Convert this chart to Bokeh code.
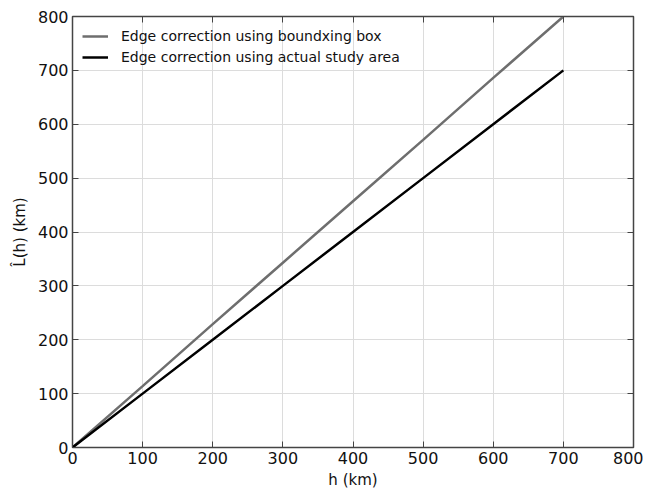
from bokeh.plotting import figure
from bokeh.models import LinearAxis, Range1d, FixedTicker, Legend, LegendItem
from bokeh.embed import file_html
from bokeh.resources import INLINE

h_km = [0, 100, 200, 300, 400, 500, 600, 700]
bbox_L = [0, 114, 229, 343, 457, 571, 686, 800]
actual_L = [0, 100, 200, 300, 400, 500, 600, 700]
ticks = [0, 100, 200, 300, 400, 500, 600, 700, 800]

FONT = "DejaVu Sans"

p = figure(width=643, height=491, output_backend="svg", toolbar_location=None,
           x_range=Range1d(0, 800), y_range=Range1d(0, 800),
           min_border_left=72, min_border_right=10, min_border_top=16, min_border_bottom=42)

p.outline_line_color = "#444444"
p.outline_line_width = 1.5
p.background_fill_color = "white"
p.border_fill_color = "white"

for ax in (p.xaxis[0], p.yaxis[0]):
    ax.ticker = FixedTicker(ticks=ticks)
    ax.major_tick_in = 6
    ax.major_tick_out = 0
    ax.minor_tick_line_color = None
    ax.axis_line_color = "#444444"
    ax.major_tick_line_color = "#444444"
    ax.major_label_text_font = FONT
    ax.major_label_text_font_size = "16px"
    ax.major_label_text_color = "#111111"
    ax.axis_label_text_font = FONT
    ax.axis_label_text_font_size = "15px"
    ax.axis_label_text_font_style = "normal"
    ax.axis_label_text_color = "#111111"

p.xaxis[0].axis_label = "h (km)"
p.xaxis[0].axis_label_standoff = 4
p.xaxis[0].major_label_standoff = 4
p.yaxis[0].axis_label = "L\u0302(h) (km)"
p.yaxis[0].axis_label_standoff = 6
p.yaxis[0].major_label_standoff = 4

for loc in ("right", "above"):
    a = LinearAxis(ticker=FixedTicker(ticks=ticks), major_tick_in=6, major_tick_out=0,
                   minor_tick_line_color=None, axis_line_color="#444444",
                   major_tick_line_color="#444444", major_label_text_font_size="1px",
                   major_label_text_color=None, major_label_standoff=0)
    p.add_layout(a, loc)

p.xgrid.ticker = FixedTicker(ticks=ticks)
p.ygrid.ticker = FixedTicker(ticks=ticks)
p.xgrid.grid_line_color = "#dcdcdc"
p.ygrid.grid_line_color = "#dcdcdc"

r1 = p.line(h_km, bbox_L, line_color="#6e6e6e", line_width=2.5)
r2 = p.line(h_km, actual_L, line_color="#000000", line_width=2.5)

legend = Legend(items=[LegendItem(label="Edge correction using boundxing box", renderers=[r1]),
                       LegendItem(label="Edge correction using actual study area", renderers=[r2])],
                location="top_left")
legend.border_line_color = None
legend.background_fill_alpha = 0
legend.label_text_font = FONT
legend.label_text_font_size = "14px"
legend.label_text_color = "#111111"
legend.glyph_width = 26
legend.spacing = 1
legend.label_standoff = 13
legend.margin = 10
legend.padding = 6
p.add_layout(legend)

open("out.html", "w").write(file_html(p, INLINE))
